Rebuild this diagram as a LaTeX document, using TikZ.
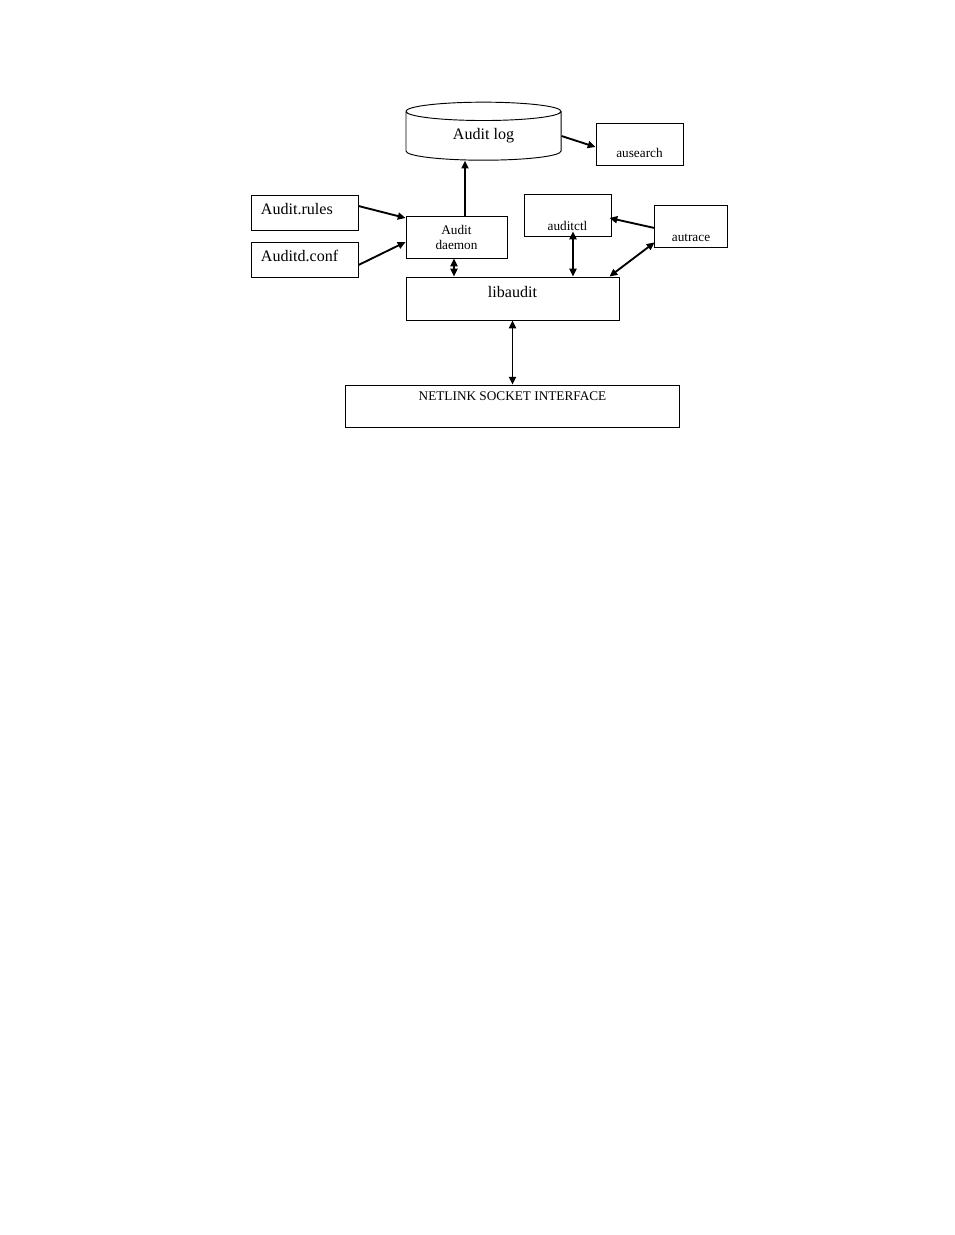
\documentclass[tikz,border=0pt]{standalone}
\usepackage{fontspec}
\setmainfont{Liberation Serif}
\usetikzlibrary{arrows.meta,calc,shapes.geometric}
\tikzset{
  >={Triangle[length=5pt,width=4.5pt]},
  abox/.style={draw=black, line width=0.6pt, inner sep=0pt},
  abig/.style={font=\fontsize{10.3}{12}\selectfont},
  asmall/.style={font=\fontsize{8.5}{9.6}\selectfont},
  afile/.style={abox, abig, minimum width=68.6pt, minimum height=22.4pt,
                text width=55.8pt, align=left, text height=2.6pt, text depth=0pt},
  tdown/.style={text height=#1, text depth=0pt},
  tup/.style={text height=0pt, text depth=#1},
  aflow/.style={->, line width=1.2pt},
  aboth/.style={<->, line width=1.2pt},
}
\begin{document}
\begin{tikzpicture}[x=0.641pt,y=-0.641pt]
  \useasboundingbox (0,0) rectangle (954,1235);

  % log store and search tool
  \node[cylinder, shape border rotate=90, aspect=0.3, draw=black, line width=0.6pt,
        minimum width=99.4pt, minimum height=37.2pt, inner sep=0pt, abig] (auditlog) at (483.5,136) {Audit log};
  \node[abox, asmall, minimum width=55.8pt, minimum height=26.9pt, tdown=17.6pt] (ausearch) at (639.5,144) {ausearch};

  % configuration files
  \node[afile] (rules) at (304.5,212.5) {Audit.rules};
  \node[afile] (conf) at (304.5,259.5) {Auditd.conf};

  % daemon and tools
  \node[abox, asmall, align=center, minimum width=64.7pt, minimum height=26.9pt] (daemon) at (456.5,237) {Audit\\daemon};
  \node[abox, asmall, minimum width=55.8pt, minimum height=26.9pt, tdown=19.8pt] (auditctl) at (567.5,215) {auditctl};
  \node[abox, asmall, minimum width=46.2pt, minimum height=26.9pt, tdown=19.8pt] (autrace) at (691,226) {autrace};

  % library and kernel interface
  \node[abox, abig, minimum width=136.5pt, minimum height=27.6pt, tup=1pt] (libaudit) at (512.5,298.5) {libaudit};
  \node[abox, asmall, minimum width=213.5pt, minimum height=26.9pt, tup=7.2pt] (netlink) at (512.5,406) {NETLINK SOCKET INTERFACE};

  % connectors
  \draw[aflow] ($(daemon.north)+(8.5,0)$) coordinate (dtop) -- (dtop |- auditlog.south);
  \draw[aflow] (auditlog.east) -- ($(ausearch.west)+(0,3)$);
  \draw[aflow] ($(rules.east)+(0,-6.5)$) -- ($(daemon.west)+(0,-19)$);
  \draw[aflow] ($(conf.east)+(0,5.5)$) -- ($(daemon.west)+(0,5)$);
  \draw[aboth] ($(daemon.south)+(-2.5,0)$) coordinate (dbot) -- (dbot |- libaudit.north);
  \draw[aboth] ($(auditctl.south)+(5.5,-5)$) coordinate (cbot) -- (cbot |- libaudit.north);
  \draw[aflow] ($(autrace.west)+(0,2)$) -- ($(auditctl.east)+(-2,3)$);
  \draw[aboth] ($(autrace.south west)+(0,-5)$) -- ($(libaudit.north east)+(-10,0)$);
  \draw[aboth] (libaudit.south) -- (netlink.north);

\end{tikzpicture}
\end{document}
